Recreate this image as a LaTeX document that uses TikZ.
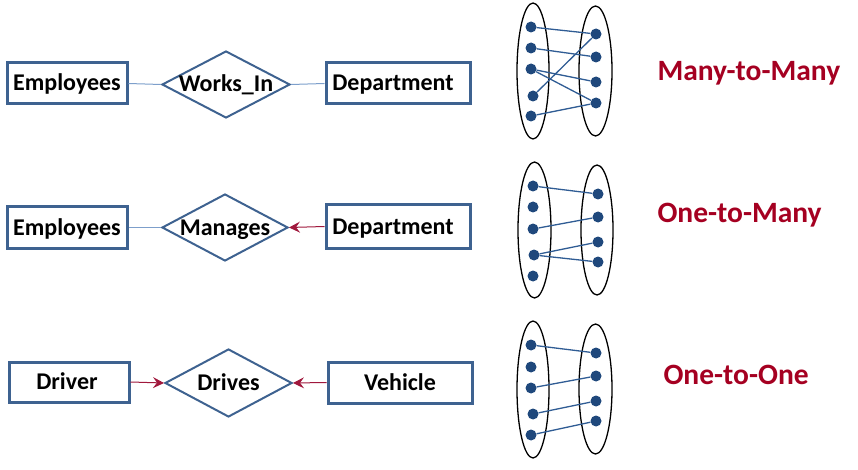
\documentclass[tikz,border=0pt]{standalone}
\usepackage{fontspec}
\setmainfont{Carlito}
\usetikzlibrary{shapes.geometric,arrows.meta}
\definecolor{boxblue}{HTML}{3E6290}
\definecolor{linkblue}{HTML}{7D9FCB}
\definecolor{dotblue}{HTML}{1F487C}
\definecolor{setline}{HTML}{2F5C94}
\definecolor{arrred}{HTML}{A0183C}
\definecolor{labred}{HTML}{A50021}
\tikzset{
  entity/.style={draw=boxblue, line width=3pt, rectangle, inner sep=0pt, text height=21pt, text depth=6pt, font=\bfseries\fontsize{24}{28}\selectfont},
  rel/.style={draw=boxblue, line width=2pt, diamond, inner sep=0pt},
  reltext/.style={inner sep=0pt, text height=21pt, text depth=6pt, font=\bfseries\fontsize{24}{28}\selectfont},
  plainlink/.style={draw=linkblue, line width=1pt},
  arrlink/.style={draw=arrred, line width=1pt, -{Stealth[length=11pt,width=11pt,inset=4pt]}},
  setell/.style={draw=black, line width=1.3pt, ellipse, inner sep=0pt},
  dot/.style={circle, fill=dotblue, inner sep=0pt, minimum size=11pt},
  setlink/.style={draw=setline, line width=1.3pt},
  kind/.style={font=\bfseries\fontsize{29.5}{34}\selectfont, text=labred, anchor=west}
}
\begin{document}
\begin{tikzpicture}[x=1pt,y=-1pt]
\useasboundingbox (0,0) rectangle (858,470);
% Row 1
\node[entity, minimum width=120, minimum height=41] (e1) at (67,83.5) {Employees};
\node[rel, minimum width=128, minimum height=67, label={[reltext]center:Works\_In}] (r1) at (226,84.5) {};
\node[entity, minimum width=144, minimum height=41] (d1) at (398,83.5) {Department\hspace*{10pt}};
\draw[plainlink] (e1.east) -- (r1.west);
\draw[plainlink] (r1.east) -- (d1.west);
% Row 2
\node[entity, minimum width=120, minimum height=41] (e2) at (67,227.5) {Employees};
\node[rel, minimum width=126, minimum height=67, label={[reltext]center:Manages}] (r2) at (225,227.5) {};
\node[entity, minimum width=144, minimum height=43] (d2) at (398,226.5) {Department\hspace*{10pt}};
\draw[plainlink] (e2.east) -- (r2.west);
\draw[arrlink] (d2.west) -- (r2.east);
% Row 3
\node[entity, minimum width=120, minimum height=40] (dr) at (69,382) {Driver\hspace*{4pt}};
\node[rel, minimum width=127, minimum height=68, label={[reltext]center:Drives}] (r3) at (228.5,383) {};
\node[entity, minimum width=144, minimum height=41] (ve) at (400,382.5) {Vehicle};
\draw[arrlink] (dr.east) -- (r3.west);
\draw[arrlink] (ve.west) -- (r3.east);

% Set diagram 1
\node[setell, minimum width=32, minimum height=136] (a1) at (533,71) {};
\node[setell, minimum width=33, minimum height=130] (b1) at (595.5,71) {};
\node[dot] (a1p1) at (531,27) {};
\node[dot] (a1p2) at (531,48) {};
\node[dot] (a1p3) at (531,69) {};
\node[dot] (a1p4) at (533,96) {};
\node[dot] (a1p5) at (531,116) {};
\node[dot] (b1p1) at (596,34) {};
\node[dot] (b1p2) at (596,57) {};
\node[dot] (b1p3) at (596,82) {};
\node[dot] (b1p4) at (596,103) {};
\draw[setlink] (a1p1) -- (b1p1);
\draw[setlink] (a1p2) -- (b1p2);
\draw[setlink] (a1p3) -- (b1p3);
\draw[setlink] (a1p3) -- (b1p4);
\draw[setlink] (a1p4) -- (b1p1);
\draw[setlink] (a1p5) -- (b1p4);

% Set diagram 2
\node[setell, minimum width=33, minimum height=136] (a2) at (534.5,230) {};
\node[setell, minimum width=32, minimum height=130] (b2) at (597,230) {};
\node[dot] (a2p1) at (533,186) {};
\node[dot] (a2p2) at (533,207) {};
\node[dot] (a2p3) at (533,229) {};
\node[dot] (a2p4) at (534,255) {};
\node[dot] (a2p5) at (533,276) {};
\node[dot] (b2p1) at (598,194) {};
\node[dot] (b2p2) at (598,217) {};
\node[dot] (b2p3) at (598,242) {};
\node[dot] (b2p4) at (598,262) {};
\draw[setlink] (a2p1) -- (b2p1);
\draw[setlink] (a2p3) -- (b2p2);
\draw[setlink] (a2p4) -- (b2p3);
\draw[setlink] (a2p4) -- (b2p4);

% Set diagram 3
\node[setell, minimum width=32, minimum height=137] (a3) at (533,389.5) {};
\node[setell, minimum width=33, minimum height=130] (b3) at (595.5,389) {};
\node[dot] (a3p1) at (531,345) {};
\node[dot] (a3p2) at (531,367) {};
\node[dot] (a3p3) at (531,388) {};
\node[dot] (a3p4) at (533,414) {};
\node[dot] (a3p5) at (531,435) {};
\node[dot] (b3p1) at (596,353) {};
\node[dot] (b3p2) at (596,376) {};
\node[dot] (b3p3) at (596,401) {};
\node[dot] (b3p4) at (596,421) {};
\draw[setlink] (a3p1) -- (b3p1);
\draw[setlink] (a3p3) -- (b3p2);
\draw[setlink] (a3p4) -- (b3p3);
\draw[setlink] (a3p5) -- (b3p4);

% Labels
\node[kind] (k1) at (654,73) {Many-to-Many};
\node[kind] (k2) at (654,215) {One-to-Many};
\node[kind] (k3) at (660,375) {One-to-One};
\end{tikzpicture}
\end{document}
